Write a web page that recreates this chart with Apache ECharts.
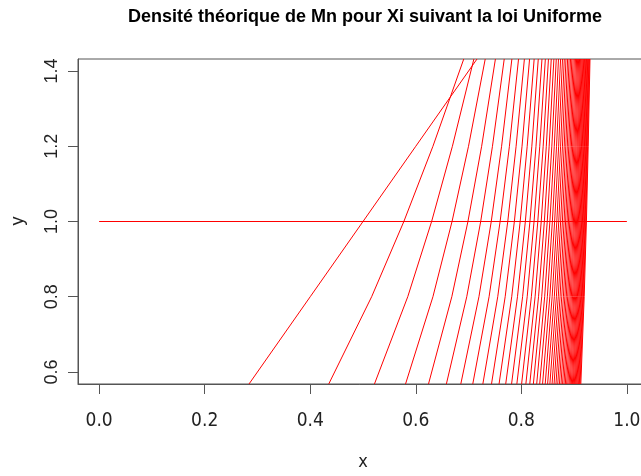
<!DOCTYPE html>
<html>
<head>
<meta charset="utf-8">
<script src="https://cdn.jsdelivr.net/npm/echarts@6/dist/echarts.min.js"></script>
<style>
  html, body { margin: 0; padding: 0; background: #fff; }
  #chart { width: 641px; height: 476px; }
</style>
</head>
<body>
<div id="chart"></div>
<script>
// densité de Mn = n x^(n-1): pour chaque n, abscisse
// où la courbe passe aux niveaux y de levels
const nValues = [2, 3, 4, 5, 6, 7, 8, 9, 10, 11, 12, 13, 14, 15, 16, 17, 18, 19, 20,
  21, 22, 23, 24, 25, 26, 27, 28, 29, 30, 31, 32, 33, 34, 35, 36, 37, 38, 39, 40,
  41, 42, 43, 44, 45, 46, 47, 48, 49, 50]
const levels = [0.568, 0.8, 1.0, 1.2, 1.432]
const xAtBottom = [0.284, 0.4351, 0.5217, 0.5806, 0.6241, 0.6580, 0.6853, 0.7080, 0.7271,
  0.7435, 0.7578, 0.7704, 0.7815, 0.7915, 0.8005, 0.8086, 0.8160, 0.8228, 0.8291,
  0.8348, 0.8402, 0.8452, 0.8498, 0.8541, 0.8582, 0.8620, 0.8656, 0.8690, 0.8722,
  0.8752, 0.8781, 0.8808, 0.8834, 0.8859, 0.8882, 0.8905, 0.8926, 0.8947, 0.8967,
  0.8985, 0.9004, 0.9021, 0.9038, 0.9054, 0.9070, 0.9085, 0.9099, 0.9113, 0.9127]
const xAt08 = [0.4, 0.5164, 0.5848, 0.6325, 0.6683, 0.6966, 0.7197, 0.7389, 0.7553,
  0.7694, 0.7818, 0.7927, 0.8024, 0.8111, 0.8190, 0.8261, 0.8326, 0.8386, 0.8442,
  0.8493, 0.8540, 0.8584, 0.8625, 0.8664, 0.8700, 0.8734, 0.8766, 0.8797, 0.8825,
  0.8852, 0.8878, 0.8903, 0.8926, 0.8948, 0.8970, 0.8990, 0.9009, 0.9028, 0.9046,
  0.9063, 0.9079, 0.9095, 0.9110, 0.9125, 0.9139, 0.9153, 0.9166, 0.9178, 0.9191]
const xAt10 = [0.5, 0.5774, 0.6300, 0.6687, 0.6988, 0.7230, 0.7430, 0.7598, 0.7743,
  0.7868, 0.7978, 0.8076, 0.8163, 0.8241, 0.8312, 0.8377, 0.8436, 0.8491, 0.8541,
  0.8588, 0.8631, 0.8672, 0.8709, 0.8745, 0.8778, 0.8810, 0.8839, 0.8867, 0.8893,
  0.8918, 0.8942, 0.8965, 0.8987, 0.9007, 0.9027, 0.9046, 0.9064, 0.9081, 0.9097,
  0.9113, 0.9129, 0.9143, 0.9158, 0.9171, 0.9184, 0.9197, 0.9209, 0.9221, 0.9233]
const xAt12 = [0.6, 0.6325, 0.6694, 0.6999, 0.7248, 0.7453, 0.7626, 0.7774, 0.7901,
  0.8013, 0.8111, 0.8199, 0.8278, 0.8349, 0.8414, 0.8473, 0.8527, 0.8578, 0.8624,
  0.8667, 0.8707, 0.8744, 0.8779, 0.8812, 0.8842, 0.8871, 0.8899, 0.8925, 0.8949,
  0.8973, 0.8995, 0.9016, 0.9036, 0.9056, 0.9074, 0.9092, 0.9108, 0.9125, 0.9140,
  0.9155, 0.9169, 0.9183, 0.9196, 0.9209, 0.9222, 0.9234, 0.9245, 0.9256, 0.9267]
const xAtTop = [0.716, 0.6909, 0.7101, 0.7316, 0.7509, 0.7676, 0.7821, 0.7947, 0.8058,
  0.8156, 0.8243, 0.8321, 0.8391, 0.8455, 0.8514, 0.8567, 0.8617, 0.8662, 0.8704,
  0.8744, 0.8780, 0.8814, 0.8846, 0.8877, 0.8905, 0.8932, 0.8957, 0.8981, 0.9004,
  0.9026, 0.9047, 0.9066, 0.9085, 0.9103, 0.9120, 0.9136, 0.9152, 0.9167, 0.9182,
  0.9196, 0.9209, 0.9222, 0.9234, 0.9246, 0.9258, 0.9269, 0.9280, 0.9290, 0.9301]
// n = 1 : densité constante
const uniformX = [0, 1]
const uniformY = [1, 1]
const xTicks = [0, 0.2, 0.4, 0.6, 0.8, 1.0]
const yTicks = [0.6, 0.8, 1.0, 1.2, 1.4]

const font = '"DejaVu Sans Condensed", "Liberation Sans", sans-serif'
const fontWide = '"Liberation Sans", Arial, sans-serif'
const axisColor = '#555'
const xCols = [xAtBottom, xAt08, xAt10, xAt12, xAtTop]

const series = [{
  type: 'line',
  name: 'n=1',
  data: uniformX.map((x, i) => [x, uniformY[i]]),
}].concat(nValues.map((n, i) => ({
  type: 'line',
  name: 'n=' + n,
  data: levels.map((y, k) => [xCols[k][i], y]),
})))
series.forEach((s) => {
  s.symbol = 'none'
  s.clip = true
  s.color = '#ff0000'
  s.lineStyle = { color: '#ff0000', width: 1 }
  s.silent = true
})

const myChart = echarts.init(document.getElementById('chart'))
myChart.setOption({
  animation: false,
  title: {
    text: 'Densité théorique de Mn pour Xi suivant la loi Uniforme',
    left: 360,
    top: 3,
    textAlign: 'center',
    textStyle: { fontFamily: fontWide, fontWeight: 'bold', fontSize: 18, color: '#000' },
  },
  // noms des axes
  graphic: [
    {
      type: 'text',
      x: 363,
      y: 462,
      style: { text: 'x', font: '18px ' + font, fill: '#222', align: 'center', verticalAlign: 'middle' },
    },
    {
      type: 'text',
      x: 18,
      y: 221,
      rotation: Math.PI / 2,
      style: { text: 'y', font: '18px ' + fontWide, fill: '#222', align: 'center', verticalAlign: 'middle' },
    },
  ],
  grid: {
    left: 78,
    top: 59,
    width: 570,
    bottom: 92,
    outerBoundsMode: 'none',
    show: true,
    borderColor: axisColor,
    borderWidth: 1,
  },
  xAxis: {
    type: 'value',
    min: -0.04,
    max: 1.04,
    axisLine: { show: true, onZero: false, lineStyle: { color: axisColor } },
    splitLine: { show: false },
    axisTick: { show: true, length: 10, customValues: xTicks, lineStyle: { color: axisColor } },
    axisLabel: {
      customValues: xTicks,
      margin: 28,
      fontFamily: font,
      fontSize: 19,
      color: '#222',
      formatter: (v) => v.toFixed(1),
    },
  },
  yAxis: {
    type: 'value',
    min: 0.568,
    max: 1.432,
    axisLine: { show: true, onZero: false, lineStyle: { color: axisColor } },
    splitLine: { show: false },
    axisTick: { show: true, length: 10, customValues: yTicks, lineStyle: { color: axisColor } },
    axisLabel: {
      customValues: yTicks,
      rotate: 90,
      margin: 17,
      fontFamily: fontWide,
      fontSize: 18,
      color: '#222',
      formatter: (v) => v.toFixed(1),
    },
  },
  series,
})
</script>
</body>
</html>
